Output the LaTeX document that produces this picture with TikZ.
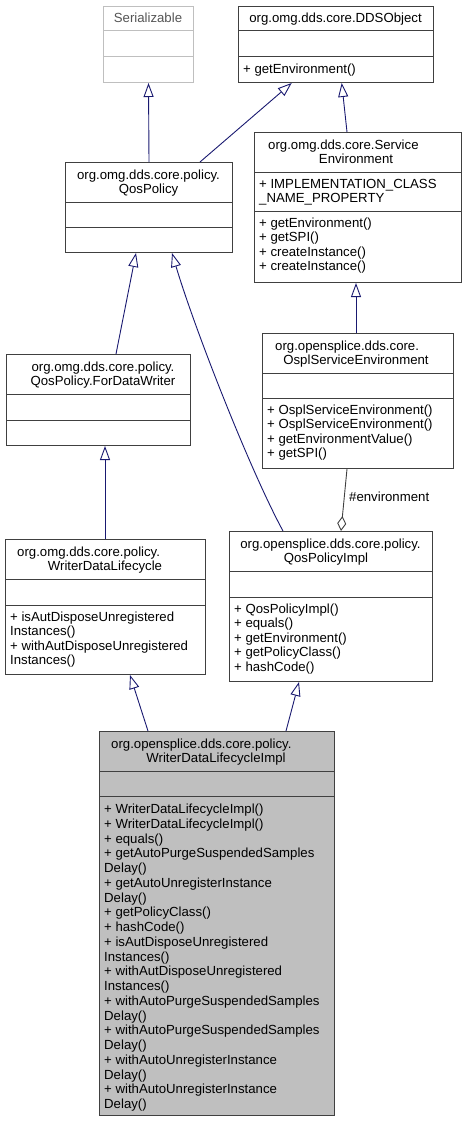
\documentclass[tikz,border=0pt]{standalone}
\usepackage{fontspec}
\setmainfont{Liberation Sans}
\usetikzlibrary{arrows.meta,calc}
\definecolor{edgeblue}{HTML}{191970}
\definecolor{aggr}{HTML}{404040}
\definecolor{boxline}{HTML}{404040}
\definecolor{ghostline}{HTML}{BFBFBF}
\definecolor{ghosttext}{HTML}{555555}
\definecolor{focusfill}{HTML}{BFBFBF}
\tikzset{
  umlbox/.style={draw=boxline, line width=1pt, fill=white, inner sep=0pt, anchor=north west},
  ghostbox/.style={umlbox, draw=ghostline},
  focusbox/.style={umlbox, fill=focusfill},
  divider/.style={draw=boxline, line width=1pt},
  ghostdivider/.style={draw=ghostline, line width=1pt},
  ttl/.style={anchor=base, inner sep=0pt, font=\fontsize{13.2}{14.4}\selectfont},
  ttlleft/.style={ttl, anchor=base west},
  mbr/.style={anchor=base west, inner sep=0pt, font=\fontsize{13.2}{14.4}\selectfont},
  inherit/.style={draw=edgeblue, line width=0.9pt, -{Triangle[open, length=14pt, width=10pt, fill=white]}},
  aggregate/.style={draw=aggr, line width=0.9pt, -{Diamond[open, length=15pt, width=9pt, fill=white]}},
  lbl/.style={anchor=base west, inner sep=0pt, font=\fontsize{13.2}{14.4}\selectfont}
}
% #1 name, #2 x1, #3 x2, #4 top, #5 div1, #6 div2, #7 bottom, #8 box style, #9 divider style
\newcommand\classbox[9]{%
  \node[#8, minimum width={#3-#2}, minimum height={#7-#4}] (#1) at (#2,#4) {};
  \path[#9] (#2,#5) -- (#3,#5) (#2,#6) -- (#3,#6);
}
% #1 name prefix, #2 x, #3 first baseline, #4 spacing, #5 list
\newcommand\memberlines[5]{%
  \foreach \t [count=\i from 0] in {#5} {\node[mbr] (#1\i) at (#2, {#3+\i*#4}) {\t};}
}
\begin{document}
\begin{tikzpicture}[x=1pt, y=-1pt]
\useasboundingbox (0,0) rectangle (465,1121);

% Serializable
\classbox{ser}{103}{193}{6}{31}{57}{82}{ghostbox}{ghostdivider}
\node[ttl, text=ghosttext] (sert) at (148,23) {Serializable};

% DDSObject
\classbox{dds}{238}{433}{6}{31}{57}{82}{umlbox}{divider}
\node[ttl] (ddst) at (335.5,23) {org.omg.dds.core.DDSObject};
\memberlines{ddsm}{243}{73.5}{14.4}{+ getEnvironment()}

% QosPolicy
\classbox{qp}{65}{232}{162}{202}{227}{252}{umlbox}{divider}
\node[ttl] (qpt0) at (148.5,179.5) {org.omg.dds.core.policy.};
\node[ttl] (qpt1) at (148.5,193.5) {QosPolicy};

% ServiceEnvironment
\classbox{se}{254}{461}{132}{172}{211}{282}{umlbox}{divider}
\node[ttlleft] (set0) at (268,149.5) {org.omg.dds.core.Service};
\node[ttl] (set1) at (356,163.5) {Environment};
\memberlines{sea}{259}{188.5}{14.4}{+ IMPLEMENTATION\_CLASS, \_NAME\_PROPERTY}
\memberlines{sem}{259}{227.5}{14.4}{+ getEnvironment(), + getSPI(), + createInstance(), + createInstance()}

% OsplServiceEnvironment
\classbox{ospl}{262}{453}{333}{373}{398}{468}{umlbox}{divider}
\node[ttlleft] (osplt0) at (275,350.5) {org.opensplice.dds.core.};
\node[ttl] (osplt1) at (356,364.5) {OsplServiceEnvironment};
\memberlines{osplm}{267}{414.5}{14.4}{+ OsplServiceEnvironment(), + OsplServiceEnvironment(), + getEnvironmentValue(), + getSPI()}

% QosPolicy.ForDataWriter
\classbox{fdw}{6}{190}{354}{394}{420}{445}{umlbox}{divider}
\node[ttl] (fdwt0) at (103,371.5) {org.omg.dds.core.policy.};
\node[ttl] (fdwt1) at (103,385.5) {QosPolicy.ForDataWriter};

% WriterDataLifecycle
\classbox{wdl}{5}{205}{539}{579}{605}{674}{umlbox}{divider}
\node[ttlleft] (wdlt0) at (17,556.5) {org.omg.dds.core.policy.};
\node[ttl] (wdlt1) at (105,570.5) {WriterDataLifecycle};
\memberlines{wdlm}{10}{621.5}{14.4}{+ isAutDisposeUnregistered, Instances(), + withAutDisposeUnregistered, Instances()}

% QosPolicyImpl
\classbox{qpi}{229}{432}{531}{571}{597}{681}{umlbox}{divider}
\node[ttl] (qpit0) at (330.5,548.5) {org.opensplice.dds.core.policy.};
\node[ttl] (qpit1) at (326,562.5) {QosPolicyImpl};
\memberlines{qpim}{234}{613.5}{14.4}{+ QosPolicyImpl(), + equals(), + getEnvironment(), + getPolicyClass(), + hashCode()}

% WriterDataLifecycleImpl
\classbox{wdli}{99}{334}{731}{771}{796}{1115}{focusbox}{divider}
\node[ttlleft] (wdlit0) at (111,748.5) {org.opensplice.dds.core.policy.};
\node[ttl] (wdlit1) at (216,762.5) {WriterDataLifecycleImpl};
\memberlines{wdlim}{104}{813.5}{14.75}{+ WriterDataLifecycleImpl(), + WriterDataLifecycleImpl(), + equals(), + getAutoPurgeSuspendedSamples, Delay(), + getAutoUnregisterInstance, Delay(), + getPolicyClass(), + hashCode(), + isAutDisposeUnregistered, Instances(), + withAutDisposeUnregistered, Instances(), + withAutoPurgeSuspendedSamples, Delay(), + withAutoPurgeSuspendedSamples, Delay(), + withAutoUnregisterInstance, Delay(), + withAutoUnregisterInstance, Delay()}

% Connectors
\draw[inherit] (qp.north) -- (ser.south);
\draw[inherit] ($(qp.north west)+(135,0)$) -- ($(dds.south west)+(53.7,0)$);
\draw[inherit] ($(se.north west)+(93,0)$) -- ($(dds.south west)+(103.7,0)$);
\draw[inherit] ($(ospl.north west)+(94,0)$) -- ($(se.south west)+(102,0)$);
\draw[inherit] ($(fdw.north west)+(110,0)$) -- ($(qp.south west)+(71,0)$);
\draw[inherit] ($(qpi.north west)+(54,0)$) .. controls (250,470) and (195,330) .. ($(qp.south west)+(107,0)$);
\draw[inherit] ($(wdl.north west)+(100,0)$) -- ($(fdw.south west)+(99,0)$);
\draw[aggregate] ($(ospl.south west)+(85,0)$) -- ($(qpi.north west)+(112,0)$);
\node[lbl] (envlbl) at (349,501.5) {\#environment};
\draw[inherit] ($(wdli.north west)+(49,0)$) -- ($(wdl.south west)+(125,0)$);
\draw[inherit] ($(wdli.north west)+(187,0)$) -- ($(qpi.south west)+(70,0)$);
\end{tikzpicture}
\end{document}
